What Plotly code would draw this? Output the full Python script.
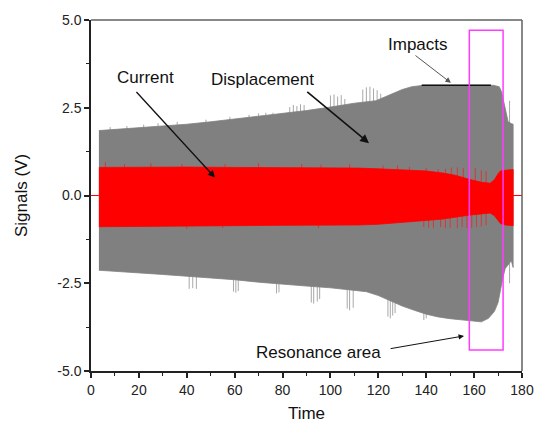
import plotly.graph_objects as go

# ---------------- data ----------------
# Displacement signal envelope (gray)
disp_top_t = [3.3, 10, 20, 30, 40, 50, 60, 70, 80, 90, 100, 110, 119, 125, 130, 134, 139, 168, 170.5, 171.5, 173, 174.2, 175.5, 176.3]
disp_top_v = [1.85, 1.88, 1.92, 1.98, 2.03, 2.10, 2.18, 2.25, 2.32, 2.42, 2.52, 2.63, 2.70, 2.88, 3.02, 3.10, 3.14, 3.14, 3.10, 2.95, 2.50, 2.10, 2.05, 2.03]
disp_bot_t = [3.3, 10, 20, 30, 40, 50, 60, 70, 80, 90, 100, 110, 115, 120, 126, 130, 135, 140, 145, 150, 155, 160, 163, 166, 168.5, 170, 171, 172, 173, 174.5, 175.5, 176.3]
disp_bot_v = [-2.13, -2.16, -2.20, -2.25, -2.30, -2.34, -2.40, -2.47, -2.53, -2.58, -2.63, -2.70, -2.74, -2.85, -3.03, -3.15, -3.27, -3.38, -3.46, -3.51, -3.55, -3.58, -3.60, -3.50, -3.30, -3.05, -2.75, -2.35, -2.08, -1.95, -1.85, -2.05]

# Displacement spikes beyond the envelope
disp_up_spike_t = [8, 15, 22, 28, 36, 48, 58, 66, 70, 73, 76, 83, 84.5, 86, 87.5, 89, 100, 101.5, 103, 104.5, 106, 113.5, 115, 116.5, 118, 119.5, 121, 174.8]
disp_up_spike_v = [1.95, 1.98, 2.02, 2.06, 2.10, 2.16, 2.24, 2.30, 2.34, 2.36, 2.36, 2.52, 2.58, 2.55, 2.60, 2.58, 2.85, 2.88, 2.82, 2.86, 2.75, 3.02, 3.08, 3.10, 3.05, 3.00, 2.90, 2.70]
disp_dn_spike_t = [41, 42.5, 44, 59.5, 60.5, 61.5, 77.5, 78.5, 92, 93, 94.5, 95.5, 107, 108, 109.5, 124, 125, 126, 127, 139, 140, 174.8]
disp_dn_spike_v = [-2.66, -2.64, -2.66, -2.74, -2.77, -2.72, -2.79, -2.76, -3.05, -3.08, -3.02, -2.95, -3.22, -3.27, -3.20, -3.45, -3.50, -3.42, -3.35, -3.55, -3.50, -2.50]

# Current signal envelope (red)
curr_t = [3.3, 20, 40, 60, 80, 100, 112, 120, 130, 140, 147, 152, 158, 163, 166.7, 168.5, 170, 171, 173, 176.3]
curr_top = [0.80, 0.81, 0.81, 0.80, 0.80, 0.79, 0.78, 0.76, 0.74, 0.70, 0.64, 0.58, 0.46, 0.38, 0.35, 0.45, 0.62, 0.70, 0.72, 0.74]
curr_bot = [-0.89, -0.88, -0.87, -0.86, -0.85, -0.85, -0.84, -0.82, -0.77, -0.71, -0.67, -0.62, -0.56, -0.52, -0.50, -0.58, -0.72, -0.80, -0.84, -0.86]

curr_up_spike_t = [6, 14, 25, 38, 47, 56, 70, 88, 96, 108, 122, 128, 133, 140, 145, 148, 150.5, 153, 155.5, 158, 160.5, 163, 165]
curr_up_spike_v = [0.95, 0.90, 0.92, 0.90, 0.88, 0.90, 0.92, 0.90, 0.88, 0.89, 0.85, 0.86, 0.82, 0.78, 0.75, 0.76, 0.80, 0.80, 0.78, 0.80, 0.78, 0.72, 0.70]
curr_dn_spike_t = [40, 55, 95, 139, 141, 143, 146, 148, 150, 153, 155, 157, 159, 161, 163, 165]
curr_dn_spike_v = [-0.95, -0.93, -0.93, -0.90, -0.92, -0.93, -0.90, -0.93, -0.92, -0.93, -0.90, -0.93, -0.92, -0.90, -0.88, -0.85]

# Baseline (zero) before/after the record
zero_left_t = [0, 3.3]
zero_right_t = [176.3, 180]
zero_v = [0, 0]

# Impacts line and resonance box
impact_line_t = [138.1, 167.0]
impact_line_v = [3.14, 3.14]
reson_box_t = [158.0, 172.1]
reson_box_v = [-4.40, 4.71]

# Axis ticks
x_tick_vals = [0, 20, 40, 60, 80, 100, 120, 140, 160, 180]
y_tick_vals = [-5.0, -2.5, 0.0, 2.5, 5.0]
y_tick_text = ["-5.0", "-2.5", "0.0", "2.5", "5.0"]

# Labels: (text, x, y) and arrows: (tail_x, tail_y, head_x, head_y)
label_text = ["Current", "Displacement", "Impacts", "Resonance area"]
label_x = [22.6, 71.6, 136.6, 95.0]
label_y = [3.35, 3.30, 4.31, -4.46]
arrow_tail_x = [18.4, 89.7, 134.9, 124.5]
arrow_tail_y = [2.99, 2.99, 4.02, -4.37]
arrow_head_x = [51.8, 116.1, 150.3, 155.8]
arrow_head_y = [0.51, 1.49, 3.21, -4.00]
arrow_color = ["#111111", "#111111", "#555555", "#111111"]
arrow_width = [1.3, 1.6, 1.0, 1.0]

# ---------------- figure ----------------
FONT = "Liberation Sans, Arial, sans-serif"


def vlines(ts, vs, base=0.0):
    xs, ys = [], []
    for t, v in zip(ts, vs):
        xs += [t, t, None]
        ys += [base, v, None]
    return xs, ys


fig = go.Figure()

# gray spikes (drawn first, envelope covers the inner part)
sx, sy = vlines(disp_up_spike_t, disp_up_spike_v)
fig.add_trace(go.Scatter(x=sx, y=sy, mode="lines", line=dict(color="#a8a8a8", width=1), hoverinfo="skip"))
sx, sy = vlines(disp_dn_spike_t, disp_dn_spike_v)
fig.add_trace(go.Scatter(x=sx, y=sy, mode="lines", line=dict(color="#a8a8a8", width=1), hoverinfo="skip"))

# displacement envelope
fig.add_trace(go.Scatter(
    x=disp_top_t + disp_bot_t[::-1],
    y=disp_top_v + disp_bot_v[::-1],
    mode="lines", fill="toself", fillcolor="#808080",
    line=dict(color="#808080", width=0.8), hoverinfo="skip"))

# red spikes
sx, sy = vlines(curr_up_spike_t, curr_up_spike_v)
fig.add_trace(go.Scatter(x=sx, y=sy, mode="lines", line=dict(color="#d03a3a", width=1), hoverinfo="skip"))
sx, sy = vlines(curr_dn_spike_t, curr_dn_spike_v)
fig.add_trace(go.Scatter(x=sx, y=sy, mode="lines", line=dict(color="#d03a3a", width=1), hoverinfo="skip"))

# current envelope
fig.add_trace(go.Scatter(
    x=curr_t + curr_t[::-1],
    y=curr_top + curr_bot[::-1],
    mode="lines", fill="toself", fillcolor="#ff0000",
    line=dict(color="#ff0000", width=0.8), hoverinfo="skip"))

# zero baselines
fig.add_trace(go.Scatter(x=zero_left_t, y=zero_v, mode="lines", line=dict(color="#ff0000", width=1), hoverinfo="skip"))
fig.add_trace(go.Scatter(x=zero_right_t, y=zero_v, mode="lines", line=dict(color="#ff0000", width=1), hoverinfo="skip"))

# impacts line
fig.add_trace(go.Scatter(x=impact_line_t, y=impact_line_v, mode="lines", line=dict(color="#111111", width=1.5), hoverinfo="skip"))

# resonance box
fig.add_shape(type="rect", xref="x", yref="y",
              x0=reson_box_t[0], x1=reson_box_t[1], y0=reson_box_v[0], y1=reson_box_v[1],
              line=dict(color="#ff3cff", width=1.5), fillcolor="rgba(0,0,0,0)")

# top/right frame lines
fig.add_shape(type="line", xref="paper", yref="paper", x0=0, x1=1, y0=1, y1=1, line=dict(color="#606060", width=1.5))
fig.add_shape(type="line", xref="paper", yref="paper", x0=1, x1=1, y0=0, y1=1, line=dict(color="#606060", width=1.5))

annotations = []
for t, x, y in zip(label_text, label_x, label_y):
    annotations.append(dict(x=x, y=y, xref="x", yref="y", text=t, showarrow=False,
                            font=dict(family=FONT, size=17, color="#111111"),
                            xanchor="center", yanchor="middle"))
for tx, ty, hx, hy, c, w in zip(arrow_tail_x, arrow_tail_y, arrow_head_x, arrow_head_y, arrow_color, arrow_width):
    annotations.append(dict(x=hx, y=hy, ax=tx, ay=ty, xref="x", yref="y", axref="x", ayref="y",
                            text="", showarrow=True, arrowhead=2, arrowsize=1.1, arrowwidth=w,
                            arrowcolor=c, standoff=0, startstandoff=0))

fig.update_layout(
    width=534, height=423,
    margin=dict(l=91, r=12, t=20, b=52, autoexpand=False),
    paper_bgcolor="white", plot_bgcolor="white",
    showlegend=False,
    font=dict(family=FONT, size=14, color="#222222"),
    annotations=annotations,
)

fig.update_xaxes(
    range=[0, 180], tickvals=x_tick_vals, ticks="outside", ticklen=5, tickwidth=1.5,
    tickcolor="#222222", showline=True, linecolor="#222222", linewidth=1.5,
    showgrid=False, zeroline=False, tickfont=dict(size=14), automargin=False,
    minor=dict(dtick=10, ticks="outside", ticklen=3, tickwidth=1.2, tickcolor="#222222", showgrid=False),
    title=dict(text="Time", font=dict(size=17, color="#111111"), standoff=11),
)
fig.update_yaxes(
    range=[-5, 5], tickvals=y_tick_vals, ticktext=y_tick_text, ticks="outside", ticklen=5, tickwidth=1.5,
    tickcolor="#222222", showline=True, linecolor="#222222", linewidth=1.5,
    showgrid=False, zeroline=False, tickfont=dict(size=14), automargin=False,
    minor=dict(dtick=1.25, ticks="outside", ticklen=3, tickwidth=1.2, tickcolor="#222222", showgrid=False),
    title=dict(text="Signals (V)", font=dict(size=17, color="#111111"), standoff=25),
)

fig.write_html("out.html")
